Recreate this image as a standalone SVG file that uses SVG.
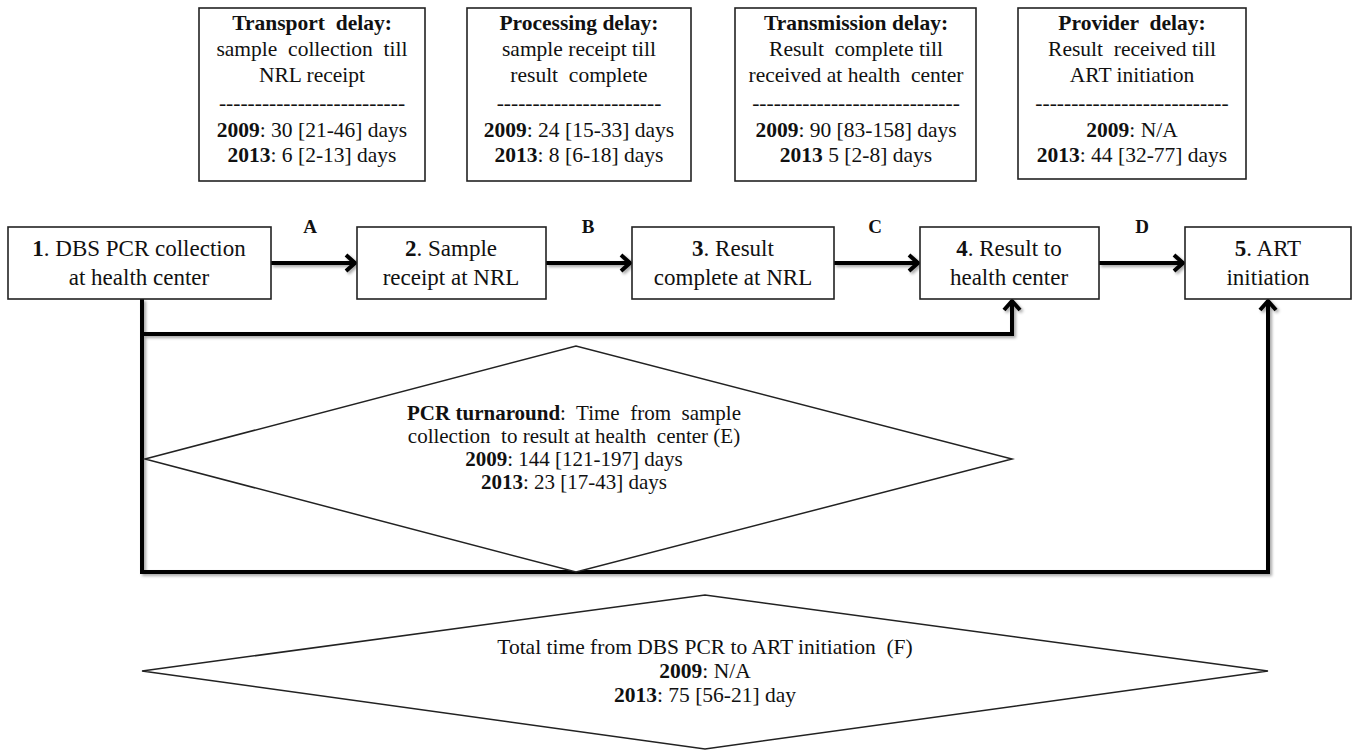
<svg xmlns="http://www.w3.org/2000/svg" width="1355" height="752" viewBox="0 0 1355 752">
<style>
text{font-family:"Liberation Serif","Times New Roman",serif;fill:#111;text-anchor:middle}
.t{font-size:21.5px}
.m{font-size:23px}
.d{font-size:21px}
.lb{font-size:19px;font-weight:bold}
.b{font-weight:bold}
.pre{white-space:pre}
.box{fill:#fff;stroke:#222;stroke-width:1.6}
.dia{fill:#fff;stroke:#222;stroke-width:1.5}
.con{fill:none;stroke:#000;stroke-width:4}
</style>
<defs>
<marker id="arr" markerUnits="userSpaceOnUse" markerWidth="30" markerHeight="30" viewBox="-15 -15 30 30" refX="0" refY="0" orient="auto" overflow="visible">
<path d="M-10,-8 L-1,0 L-10,8" fill="none" stroke="#000" stroke-width="4"/>
</marker>
<filter id="sh" x="-5%" y="-5%" width="110%" height="110%">
<feDropShadow dx="2" dy="2" stdDeviation="1.5" flood-color="#000" flood-opacity="0.35"/>
</filter>
</defs>
<rect width="1355" height="752" fill="#fff"/>

<g id="transport-delay">
<rect class="box" x="199" y="8" width="226" height="173"/>
<text class="t pre" x="312" y="30"><tspan class="b">Transport  delay:</tspan></text>
<text class="t pre" x="312" y="56">sample  collection  till</text>
<text class="t" x="312" y="82">NRL receipt</text>
<text class="t" x="312" y="110">--------------------------</text>
<text class="t" x="312" y="137"><tspan class="b">2009</tspan>: 30 [21-46] days</text>
<text class="t" x="312" y="162"><tspan class="b">2013</tspan>: 6 [2-13] days</text>
</g>
<g id="processing-delay">
<rect class="box" x="467" y="8" width="224" height="173"/>
<text class="t" x="579" y="30"><tspan class="b">Processing delay:</tspan></text>
<text class="t" x="579" y="56">sample receipt till</text>
<text class="t pre" x="579" y="82">result  complete</text>
<text class="t" x="579" y="110">-----------------------</text>
<text class="t" x="579" y="137"><tspan class="b">2009</tspan>: 24 [15-33] days</text>
<text class="t" x="579" y="162"><tspan class="b">2013</tspan>: 8 [6-18] days</text>
</g>
<g id="transmission-delay">
<rect class="box" x="735" y="8" width="241" height="173"/>
<text class="t" x="856" y="30"><tspan class="b">Transmission delay:</tspan></text>
<text class="t pre" x="856" y="56">Result  complete till</text>
<text class="t pre" x="856" y="82">received at health  center</text>
<text class="t" x="856" y="110">-----------------------------</text>
<text class="t" x="856" y="137"><tspan class="b">2009</tspan>: 90 [83-158] days</text>
<text class="t" x="856" y="162"><tspan class="b">2013</tspan> 5 [2-8] days</text>
</g>
<g id="provider-delay">
<rect class="box" x="1018" y="8" width="228" height="171"/>
<text class="t pre" x="1132" y="30"><tspan class="b">Provider  delay:</tspan></text>
<text class="t pre" x="1132" y="56">Result  received till</text>
<text class="t" x="1132" y="82">ART initiation</text>
<text class="t" x="1132" y="110">---------------------------</text>
<text class="t" x="1132" y="137"><tspan class="b">2009</tspan>: N/A</text>
<text class="t" x="1132" y="162"><tspan class="b">2013</tspan>: 44 [32-77] days</text>
</g>

<g id="connectors" filter="url(#sh)">
<line class="con" x1="271" y1="263" x2="356" y2="263" marker-end="url(#arr)"/>
<line class="con" x1="546" y1="263" x2="631" y2="263" marker-end="url(#arr)"/>
<line class="con" x1="834" y1="263" x2="919" y2="263" marker-end="url(#arr)"/>
<line class="con" x1="1099" y1="263" x2="1184" y2="263" marker-end="url(#arr)"/>
<path class="con" d="M142,299 V572 H1268 V300" marker-end="url(#arr)"/>
<path class="con" d="M142,334 H1012 V300" marker-end="url(#arr)"/>
</g>
<g id="edge-labels">
<text class="lb" x="310" y="233">A</text>
<text class="lb" x="588" y="233">B</text>
<text class="lb" x="875" y="233">C</text>
<text class="lb" x="1142" y="233">D</text>
</g>

<g id="n1">
<rect class="box" x="8" y="227" width="263" height="72"/>
<text class="m" x="139" y="256"><tspan class="b">1</tspan>. DBS PCR collection</text>
<text class="m" x="139" y="285">at health center</text>
</g>
<g id="n2">
<rect class="box" x="357" y="227" width="189" height="72"/>
<text class="m" x="451" y="256"><tspan class="b">2</tspan>. Sample</text>
<text class="m" x="451" y="285">receipt at NRL</text>
</g>
<g id="n3">
<rect class="box" x="632" y="227" width="202" height="72"/>
<text class="m" x="733" y="256"><tspan class="b">3</tspan>. Result</text>
<text class="m" x="733" y="285">complete at NRL</text>
</g>
<g id="n4">
<rect class="box" x="920" y="227" width="179" height="72"/>
<text class="m" x="1009" y="256"><tspan class="b">4</tspan>. Result to</text>
<text class="m" x="1009" y="285">health center</text>
</g>
<g id="n5">
<rect class="box" x="1185" y="227" width="166" height="72"/>
<text class="m" x="1268" y="256"><tspan class="b">5</tspan>. ART</text>
<text class="m" x="1268" y="285">initiation</text>
</g>

<g id="pcr-turnaround">
<polygon class="dia" points="145,459 576,346 1012,459 576,572"/>
<text class="d pre" x="574" y="420"><tspan class="b">PCR turnaround</tspan>:  Time  from  sample</text>
<text class="d pre" x="574" y="443">collection  to result at health  center (E)</text>
<text class="d" x="574" y="466"><tspan class="b">2009</tspan>: 144 [121-197] days</text>
<text class="d" x="574" y="489"><tspan class="b">2013</tspan>: 23 [17-43] days</text>
</g>

<g id="total-time">
<polygon class="dia" points="142,671 705,595 1268,671 705,749"/>
<text class="t pre" x="705" y="654">Total time from DBS PCR to ART initiation  (F)</text>
<text class="t" x="705" y="678"><tspan class="b">2009</tspan>: N/A</text>
<text class="t" x="705" y="702"><tspan class="b">2013</tspan>: 75 [56-21] day</text>
</g>
</svg>
